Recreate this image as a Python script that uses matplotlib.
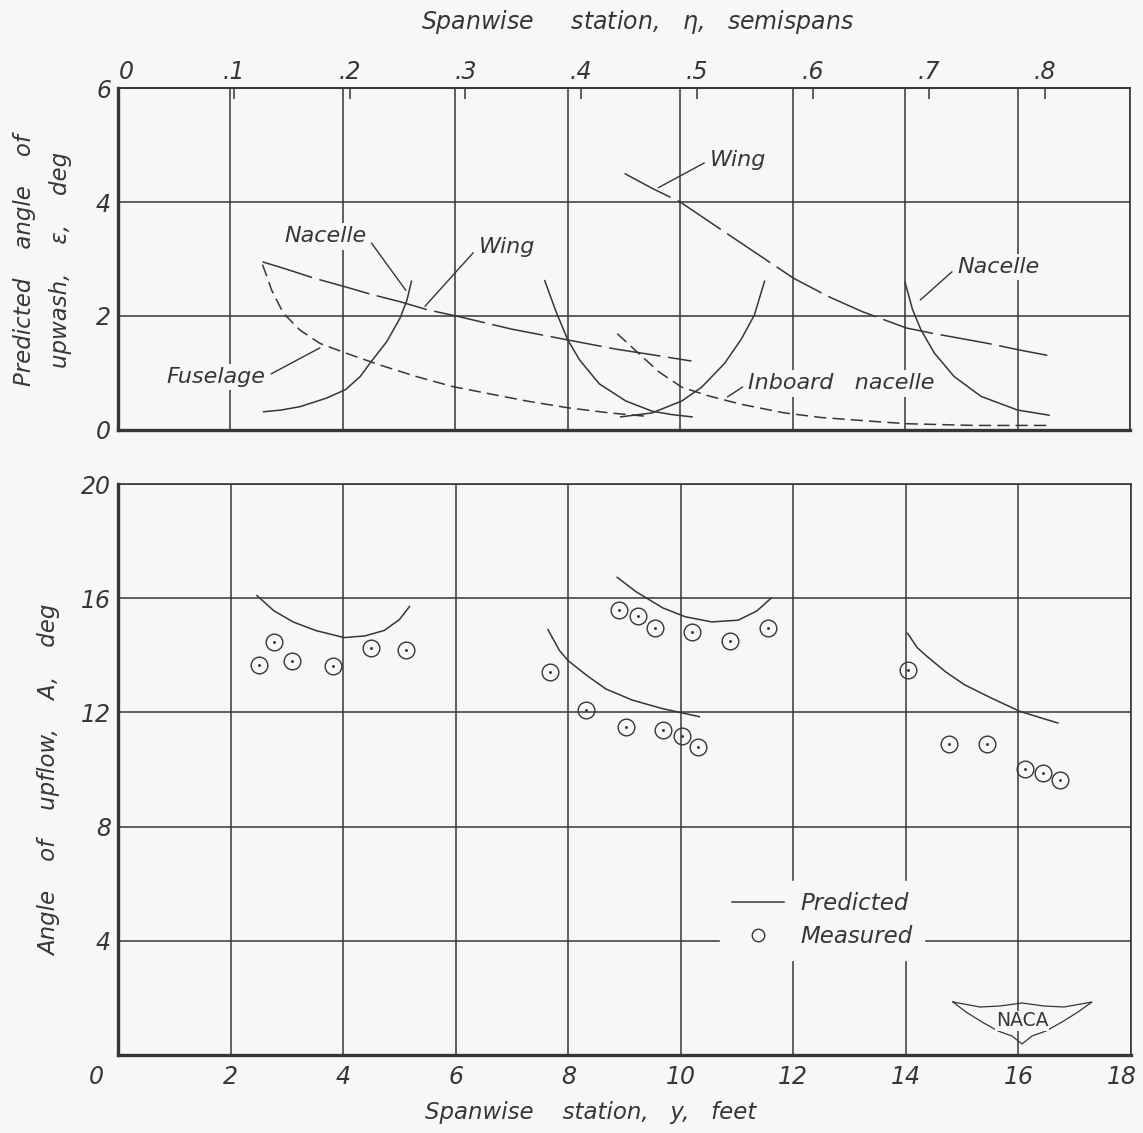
import numpy as np
import matplotlib
matplotlib.use('Agg')
import matplotlib.pyplot as plt
from matplotlib.lines import Line2D
from matplotlib.transforms import ScaledTranslation

# ---- values ----
SEMISPAN = 20.6   # ft per semispan (top scale)

# upper panel: predicted upwash, deg  vs  spanwise station, ft
wing_in_x = [2.57, 3.0, 3.5, 4.05, 4.5, 5.02, 5.5, 6.06, 7.0, 8.0, 8.85, 9.5, 10.2]
wing_in_y = [2.95, 2.82, 2.66, 2.51, 2.38, 2.25, 2.11, 1.99, 1.77, 1.58, 1.42, 1.32, 1.21]

wing_out_x = [9.01, 9.5, 10.0, 10.75, 11.4, 12.02, 12.64, 13.23, 14.02, 14.52, 15.47, 16.0, 16.53]
wing_out_y = [4.50, 4.24, 4.0, 3.50, 3.07, 2.66, 2.34, 2.08, 1.79, 1.69, 1.52, 1.41, 1.31]

fus_x = [2.57, 2.65, 2.73, 2.94, 3.24, 3.59, 4.05, 4.66, 5.3, 5.96, 7.26, 8.0, 8.74, 9.4]
fus_y = [2.90, 2.69, 2.46, 2.05, 1.75, 1.52, 1.35, 1.14, 0.94, 0.76, 0.51, 0.39, 0.30, 0.24]

inb_nac_x = [8.88, 9.21, 9.62, 10.03, 10.5, 11.09, 11.85, 12.5, 13.45, 14.04, 15.23, 16.6]
inb_nac_y = [1.69, 1.39, 1.02, 0.75, 0.60, 0.45, 0.30, 0.22, 0.15, 0.11, 0.08, 0.08]

nac1_x = [2.59, 2.9, 3.24, 3.71, 4.05, 4.31, 4.48, 4.78, 5.02, 5.14, 5.22]
nac1_y = [0.32, 0.35, 0.41, 0.56, 0.71, 0.94, 1.17, 1.55, 1.97, 2.28, 2.61]

nac2a_x = [7.59, 7.79, 8.0, 8.21, 8.56, 9.03, 9.5, 9.85, 10.21]
nac2a_y = [2.62, 2.08, 1.58, 1.23, 0.81, 0.51, 0.33, 0.27, 0.23]

nac2b_x = [8.94, 9.5, 10.03, 10.38, 10.79, 11.09, 11.32, 11.5]
nac2b_y = [0.23, 0.30, 0.51, 0.75, 1.17, 1.60, 2.02, 2.61]

nac3_x = [14.0, 14.13, 14.28, 14.52, 14.87, 15.35, 16.0, 16.56]
nac3_y = [2.59, 2.12, 1.76, 1.35, 0.94, 0.59, 0.35, 0.26]

# lower panel: angle of upflow, deg
pred1_x = [2.47, 2.77, 3.11, 3.51, 4.02, 4.39, 4.73, 5.0, 5.18]
pred1_y = [16.09, 15.56, 15.17, 14.87, 14.62, 14.68, 14.87, 15.25, 15.71]

pred2_x = [8.87, 9.21, 9.68, 10.08, 10.55, 11.02, 11.35, 11.61]
pred2_y = [16.73, 16.22, 15.66, 15.35, 15.17, 15.23, 15.55, 16.01]

pred3_x = [7.64, 7.84, 8.0, 8.34, 8.67, 9.14, 9.68, 10.33]
pred3_y = [14.90, 14.18, 13.81, 13.28, 12.82, 12.43, 12.13, 11.85]

pred4_x = [14.03, 14.2, 14.37, 14.7, 15.04, 15.51, 16.01, 16.38, 16.70]
pred4_y = [14.77, 14.27, 13.97, 13.43, 12.97, 12.51, 12.05, 11.82, 11.63]

meas_x = [2.50, 2.78, 3.10, 3.82, 4.49, 5.11,
          7.67, 8.32, 8.91, 9.03, 9.24, 9.54, 9.69, 10.03, 10.2, 10.31, 10.88, 11.55,
          14.04, 14.77, 15.45, 16.12, 16.43, 16.73]
meas_y = [13.66, 14.47, 13.80, 13.63, 14.27, 14.20,
          13.40, 12.08, 15.58, 11.50, 15.38, 14.94, 11.40, 11.16, 14.80, 10.79, 14.50, 14.95,
          13.50, 10.91, 10.90, 10.02, 9.88, 9.64]

x_ticks = list(range(0, 19, 2))
eta_ticks = [0, .1, .2, .3, .4, .5, .6, .7, .8]
eta_labels = ['0', '.1', '.2', '.3', '.4', '.5', '.6', '.7', '.8']
top_yticks = [0, 2, 4, 6]
bot_yticks = [0, 4, 8, 12, 16, 20]
bot_ylabels = ['', '4', '8', '12', '16', '20']

# ---- style ----
BG = '#f7f7f7'
INK = '#363636'
plt.rcParams['font.family'] = 'DejaVu Sans'
plt.rcParams['font.style'] = 'oblique'
plt.rcParams['text.color'] = INK

W, H = 1143, 1133
fig = plt.figure(figsize=(W / 100, H / 100), dpi=100, facecolor=BG)

def box(l, t, r, b):
    return [l / W, 1 - b / H, (r - l) / W, (b - t) / H]

ax1 = fig.add_axes(box(118, 88, 1130, 430))
ax2 = fig.add_axes(box(118, 484, 1131, 1055))

for ax in (ax1, ax2):
    ax.set_facecolor(BG)
    ax.set_xlim(0, 18)
    ax.set_xticks(x_ticks)
    ax.grid(True, color=INK, lw=1.1)
    ax.set_axisbelow(True)
    ax.tick_params(length=0, labelsize=17, colors=INK)
    ax.spines['left'].set_linewidth(2.4)
    ax.spines['bottom'].set_linewidth(2.4)
    ax.spines['top'].set_linewidth(1.2)
    ax.spines['right'].set_linewidth(1.2)
    for s in ax.spines.values():
        s.set_color(INK)

def nudge(label, dx_px):
    label.set_transform(label.get_transform() + ScaledTranslation(dx_px / 100, 0, fig.dpi_scale_trans))

# ---- upper panel ----
ax1.set_ylim(0, 6)
ax1.set_yticks(top_yticks)
ax1.tick_params(axis='x', labelbottom=False)
ax1.tick_params(axis='y', pad=5)

long_dash = (34, 5)
short_dash = (8, 4)
lw = 1.1
ax1.plot(wing_in_x, wing_in_y, color=INK, lw=lw, dashes=long_dash)
ax1.plot(wing_out_x, wing_out_y, color=INK, lw=lw, dashes=long_dash)
ax1.plot(fus_x, fus_y, color=INK, lw=lw, dashes=short_dash)
ax1.plot(inb_nac_x, inb_nac_y, color=INK, lw=lw, dashes=short_dash)
for xs, ys in [(nac1_x, nac1_y), (nac2a_x, nac2a_y), (nac2b_x, nac2b_y), (nac3_x, nac3_y)]:
    ax1.plot(xs, ys, color=INK, lw=lw)

secax = ax1.secondary_xaxis('top', functions=(lambda f: f / SEMISPAN, lambda e: e * SEMISPAN))
secax.set_xticks(eta_ticks)
secax.set_xticklabels(eta_labels)
secax.tick_params(direction='in', length=8, width=1.1, colors=INK, labelsize=17, pad=3)
secax.spines['top'].set_linewidth(1.2)
secax.spines['top'].set_color(INK)
nudge(secax.xaxis.get_major_ticks()[0].label2, 8)

lab_kw = dict(fontsize=16, color=INK, va='center',
              bbox=dict(boxstyle='square,pad=0.15', fc=BG, ec='none'))
arr = dict(arrowstyle='-', color=INK, lw=1.0, shrinkA=2, shrinkB=0)
ax1.annotate('Nacelle', xy=(5.12, 2.45), xytext=(4.42, 3.40), ha='right',
             arrowprops=dict(arr, relpos=(1, 0.5)), **lab_kw)
ax1.annotate('Wing', xy=(5.46, 2.17), xytext=(6.41, 3.21), ha='left',
             arrowprops=dict(arr, relpos=(0, 0.5)), **lab_kw)
ax1.annotate('Fuselage', xy=(3.59, 1.44), xytext=(2.62, 0.93), ha='right',
             arrowprops=dict(arr, relpos=(1, 0.5)), **lab_kw)
ax1.annotate('Wing', xy=(9.61, 4.25), xytext=(10.53, 4.74), ha='left',
             arrowprops=dict(arr, relpos=(0, 0.5)), **lab_kw)
ax1.annotate('Nacelle', xy=(14.27, 2.28), xytext=(14.93, 2.86), ha='left',
             arrowprops=dict(arr, relpos=(0, 0.5)), **lab_kw)
ax1.annotate('Inboard   nacelle', xy=(10.84, 0.58), xytext=(11.21, 0.82), ha='left',
             arrowprops=dict(arr, relpos=(0, 0.5)), **lab_kw)

# ---- lower panel ----
ax2.set_ylim(0, 20)
ax2.set_yticks(bot_yticks)
ax2.set_yticklabels(bot_ylabels)
ax2.set_xticklabels([str(t) for t in x_ticks])
ax2.tick_params(axis='y', pad=5)
ax2.tick_params(axis='x', pad=7)

for xs, ys in [(pred1_x, pred1_y), (pred2_x, pred2_y), (pred3_x, pred3_y), (pred4_x, pred4_y)]:
    ax2.plot(xs, ys, color=INK, lw=lw)
ax2.plot(meas_x, meas_y, ls='none', marker='o', ms=12, mfc='none', mec=INK, mew=1.0)
ax2.plot(meas_x, meas_y, ls='none', marker='o', ms=1.1, mfc=INK, mec=INK)

# shift the end labels of the foot scale like the original
xt = ax2.xaxis.get_major_ticks()
nudge(xt[0].label1, -22)
nudge(xt[-1].label1, -9)

handles = [Line2D([], [], color=INK, lw=1.1),
           Line2D([], [], ls='none', marker='o', ms=9, mfc='none', mec=INK, mew=1.0)]
leg = ax2.legend(handles, ['Predicted', 'Measured'], loc='center', bbox_to_anchor=(0.695, 0.236),
                 prop=dict(size=16.5, style='oblique'), handlelength=2.3, handletextpad=0.7,
                 labelspacing=0.45, borderpad=0.5, frameon=True, fancybox=False,
                 facecolor=BG, edgecolor=BG, framealpha=1)
for t in leg.get_texts():
    t.set_color(INK)

# NACA wing badge
def px(p):
    return ((p[0] - 118) / 1013, (1055 - p[1]) / 571)
wing_pts = [(953, 1002), (980, 1007), (1000, 1006), (1022, 1003), (1044, 1006), (1064, 1007),
            (1092, 1002), (1078, 1012), (1062, 1022), (1046, 1031), (1032, 1036), (1022, 1044),
            (1012, 1036), (998, 1031), (982, 1022), (966, 1012), (953, 1002)]
bx, by = zip(*[px(p) for p in wing_pts])
ax2.plot(bx, by, color=INK, lw=0.9, transform=ax2.transAxes)
ax2.text(*px((1022, 1021)), 'NACA', transform=ax2.transAxes, ha='center', va='center',
         fontsize=13.5, style='normal', color=INK,
         bbox=dict(boxstyle='square,pad=0.05', fc=BG, ec='none'))

# ---- axis titles ----
fig.text(638 / W, 1 - 22 / H, 'Spanwise     station,   $\\eta$,   semispans', ha='center', va='center',
         fontsize=17, color=INK)
fig.text(591 / W, 1 - 1113 / H, 'Spanwise    station,   y,   feet', ha='center', va='center',
         fontsize=16.5, color=INK)
fig.text(25 / W, 1 - 260 / H, 'Predicted    angle    of', rotation=90, ha='center', va='center',
         fontsize=16.5, color=INK)
fig.text(60 / W, 1 - 260 / H, 'upwash,    \u03b5,    deg', rotation=90, ha='center', va='center',
         fontsize=16.5, color=INK)
fig.text(50 / W, 1 - 780 / H, 'Angle    of    upflow,    A,    deg', rotation=90, ha='center', va='center',
         fontsize=16.5, color=INK)

fig.savefig('out.png', dpi=100, facecolor=BG)
